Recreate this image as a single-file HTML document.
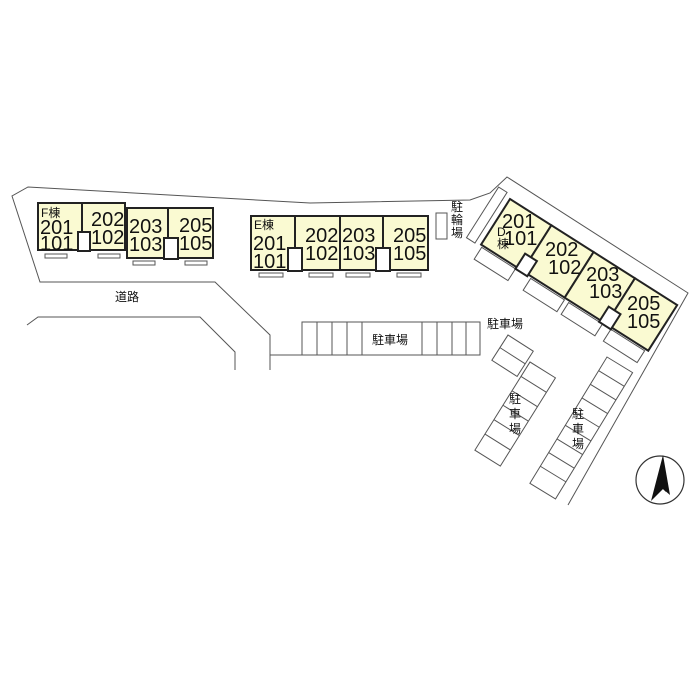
<!DOCTYPE html>
<html><head><meta charset="utf-8"><style>
html,body{margin:0;padding:0;background:#fff}
svg{display:block}
text{font-family:"Liberation Sans","Noto Sans CJK JP",sans-serif;fill:#111}
.b{fill:#fafad2;stroke:#222;stroke-width:2}
.l{fill:none;stroke:#555;stroke-width:1}
.w{fill:#fff;stroke:#555;stroke-width:1}
.n{font-size:20px}
.k{font-size:12px}
</style></head><body>
<svg width="700" height="700" viewBox="0 0 700 700">
<polyline class="l" points="270,370 270,335 215,282 40,282 12,196 28,187 310,203 470,200 490,193 507,177 688,293 568,505"/>
<polyline class="l" points="27,325 38,317 200,317 235,352 235,370"/>
<!-- F building -->
<rect class="b" x="38" y="203" width="44" height="47"/>
<rect class="b" x="82" y="203" width="43" height="47"/>
<rect class="b" x="127" y="208" width="41" height="50"/>
<rect class="b" x="168" y="208" width="45" height="50"/>
<rect x="78" y="232" width="12" height="19" fill="#fff" stroke="#222" stroke-width="2"/>
<rect x="164" y="238" width="14" height="21" fill="#fff" stroke="#222" stroke-width="2"/>
<rect class="w" x="45" y="254" width="22" height="4"/><rect class="w" x="98" y="254" width="22" height="4"/>
<rect class="w" x="133" y="261" width="22" height="4"/><rect class="w" x="185" y="261" width="22" height="4"/>
<text class="k" x="41" y="217">F棟</text>
<text class="n" x="40" y="234">201</text><text class="n" x="40" y="250">101</text>
<text class="n" x="91" y="226">202</text><text class="n" x="91" y="244">102</text>
<text class="n" x="129" y="233">203</text><text class="n" x="129" y="251">103</text>
<text class="n" x="179" y="232">205</text><text class="n" x="179" y="250">105</text>
<!-- E building -->
<rect class="b" x="251" y="216" width="44" height="54"/>
<rect class="b" x="295" y="216" width="45" height="54"/>
<rect class="b" x="340" y="216" width="43" height="54"/>
<rect class="b" x="383" y="216" width="45" height="54"/>
<rect x="288" y="248" width="14" height="23" fill="#fff" stroke="#222" stroke-width="2"/>
<rect x="376" y="248" width="14" height="23" fill="#fff" stroke="#222" stroke-width="2"/>
<rect class="w" x="259" y="273" width="24" height="4"/><rect class="w" x="309" y="273" width="24" height="4"/>
<rect class="w" x="346" y="273" width="24" height="4"/><rect class="w" x="397" y="273" width="24" height="4"/>
<text class="k" x="254" y="229">E棟</text>
<text class="n" x="253" y="250">201</text><text class="n" x="253" y="268">101</text>
<text class="n" x="305" y="242">202</text><text class="n" x="305" y="260">102</text>
<text class="n" x="342" y="242">203</text><text class="n" x="342" y="260">103</text>
<text class="n" x="393" y="242">205</text><text class="n" x="393" y="260">105</text>
<rect class="w" x="436" y="213" width="11" height="26"/>
<text class="k" x="451" y="211">駐</text><text class="k" x="451" y="224">輪</text><text class="k" x="451" y="237">場</text>
<!-- D building -->
<g transform="translate(510,199) rotate(32.4)">
<rect class="w" x="-16" y="-4" width="10" height="60"/>
<rect class="w" x="2" y="56" width="40" height="14"/>
<rect class="w" x="60" y="56" width="40" height="14"/>
<rect class="w" x="105" y="56" width="40" height="14"/>
<rect class="w" x="155" y="56" width="40" height="14"/>
<rect class="b" x="0" y="0" width="49" height="54"/>
<rect class="b" x="49" y="0" width="50" height="54"/>
<rect class="b" x="99" y="0" width="49" height="54"/>
<rect class="b" x="148" y="0" width="50" height="54"/>
<rect x="42" y="38" width="14" height="18" fill="#fff" stroke="#222" stroke-width="2"/>
<rect x="141" y="38" width="14" height="18" fill="#fff" stroke="#222" stroke-width="2"/>
</g>
<text class="n" x="502" y="228">201</text><text class="n" x="504" y="245">101</text>
<text class="k" x="497" y="236">D</text><text class="k" x="497" y="248">棟</text>
<text class="n" x="545" y="256">202</text><text class="n" x="548" y="274">102</text>
<text class="n" x="586" y="281">203</text><text class="n" x="589" y="298">103</text>
<text class="n" x="627" y="310">205</text><text class="n" x="627" y="328">105</text>
<!-- top parking -->
<polyline class="l" points="270,355 480,355"/>
<rect class="w" x="302" y="322" width="178" height="33"/>
<path class="l" d="M317,322V355M332,322V355M347,322V355M362,322V355M422,322V355M437,322V355M452,322V355M466,322V355"/>
<rect x="368" y="330" width="50" height="18" fill="#fff"/>
<text class="k" x="372" y="344">駐車場</text>
<text class="k" x="487" y="328">駐車場</text>
<g transform="translate(508,335) rotate(122.6)">
<rect class="w" x="0" y="-30" width="30" height="30"/>
<path class="l" d="M15,-30V0"/>
</g>
<g transform="translate(530,362) rotate(122)">
<rect class="w" x="0" y="-30" width="104" height="30"/>
<path class="l" d="M17,-30V0M34,-30V0M51,-30V0M68,-30V0M85,-30V0"/>
</g>
<text class="k" x="509" y="403">駐</text><text class="k" x="509" y="418">車</text><text class="k" x="509" y="433">場</text>
<g transform="translate(607,357) rotate(121.4)">
<rect class="w" x="0" y="-30" width="148" height="30"/>
<path class="l" d="M16,-30V0M32,-30V0M48,-30V0M64,-30V0M80,-30V0M96,-30V0M112,-30V0M128,-30V0"/>
</g>
<text class="k" x="572" y="418">駐</text><text class="k" x="572" y="433">車</text><text class="k" x="572" y="448">場</text>
<text class="k" x="115" y="301">道路</text>
<circle cx="660" cy="480" r="24" fill="none" stroke="#333" stroke-width="1.2"/>
<polygon points="663,455 651,501 663,489 666,492" fill="#111"/>
<polygon points="663,455 670,495 663,489" fill="#111"/>
</svg>
</body></html>
